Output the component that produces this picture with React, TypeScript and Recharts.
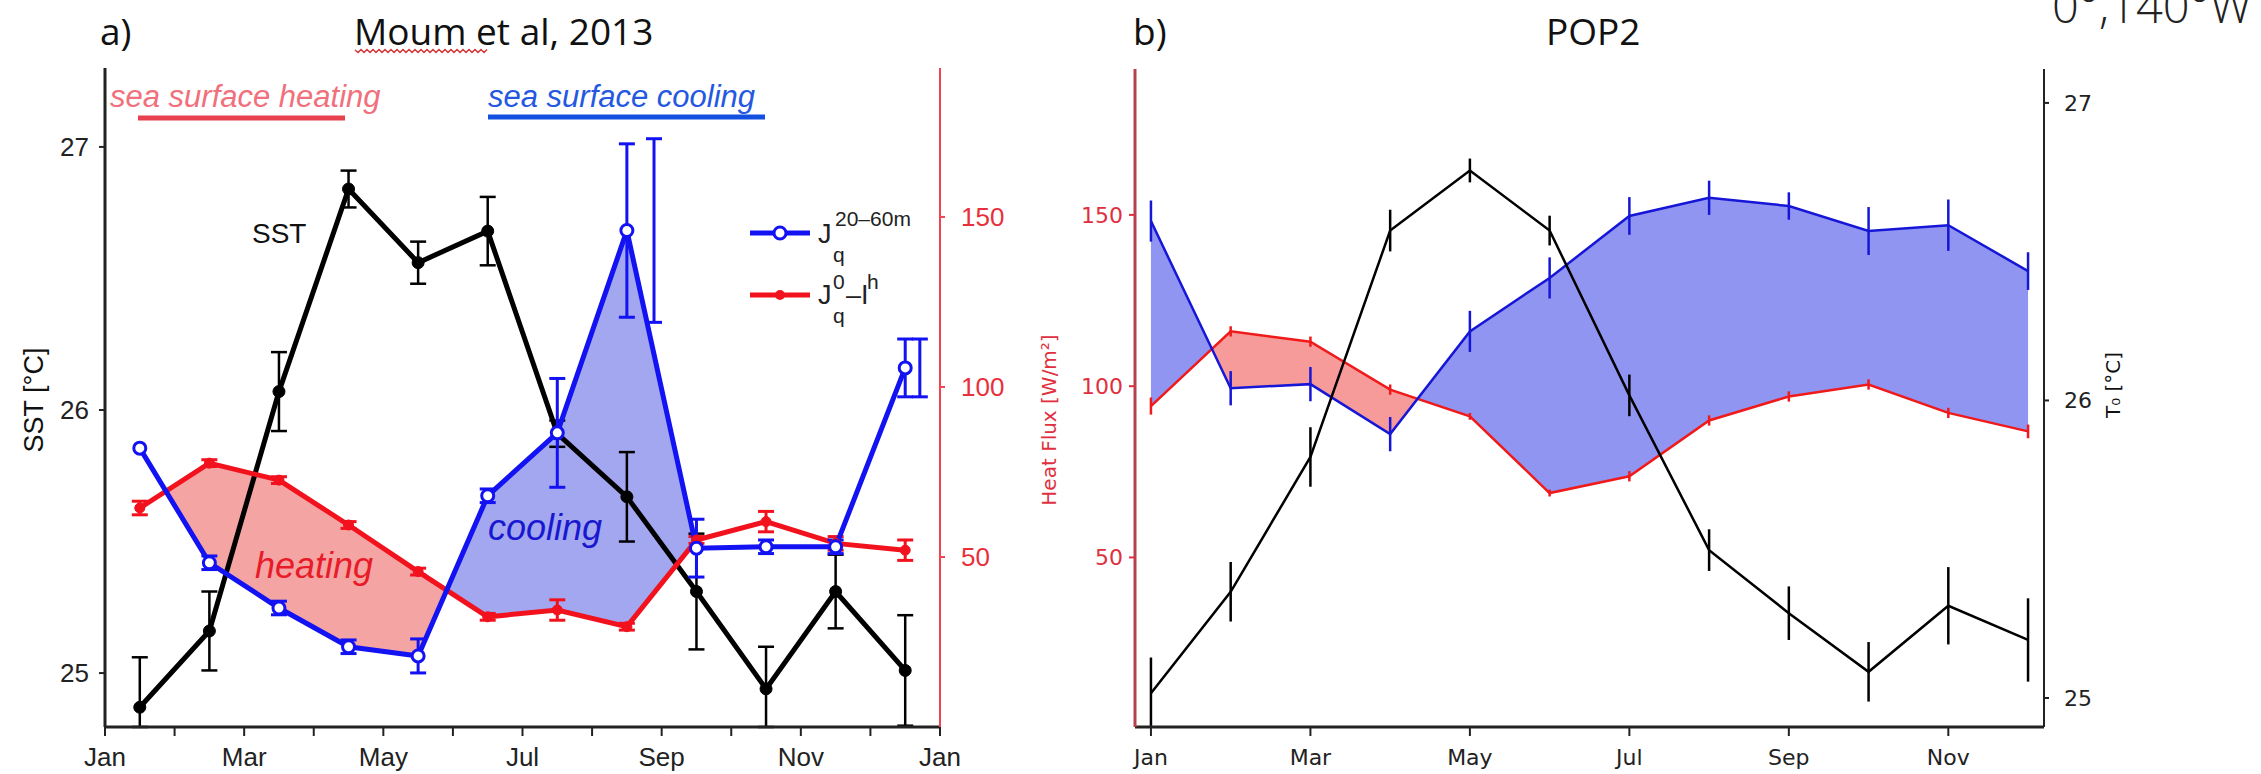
import { ComposedChart, Line, Area, XAxis, YAxis, ErrorBar } from "recharts";

const monthNames = ["Jan", "Feb", "Mar", "Apr", "May", "Jun", "Jul", "Aug", "Sep", "Oct", "Nov", "Dec"];

// panel a) Moum et al, 2013 -- monthly means plotted mid-month
const monthsA = [0.5, 1.5, 2.5, 3.5, 4.5, 5.5, 6.5, 7.5, 8.5, 9.5, 10.5, 11.5];
const sstA = [24.87, 25.16, 26.07, 26.84, 26.56, 26.68, 25.91, 25.67, 25.31, 24.94, 25.31, 25.01];
// [below, above] where the bar runs into the bottom axis
const sstErrA: (number | [number, number])[] = [[0.075, 0.19], 0.15, 0.15, 0.07, 0.08, 0.13, 0.05, 0.17, 0.22, [0.145, 0.16], 0.14, [0.21, 0.21]];
const jqDeepA = [82, 48.3, 35, 23.6, 20.9, 68, 86.5, 146, 52.6, 53, 53, 105.6];
const jqDeepErrA = [0, 2, 2, 2, 5, 2, 16, 25.5, 8.5, 2, 2, 8.5];
const jqNetA = [64.4, 77.6, 72.6, 59.4, 45.7, 32.4, 34.4, 29.5, 55, 60.4, 54, 52];
const jqNetErrA = [2, 1, 1, 1, 1, 1, 3, 1, 1, 3, 2, 3];
// two stray error bars without markers
const extraMonthsA = [7.89, 11.71];
const extraValsA = [146, 105.6];
const extraErrA = [27, 8.5];

// panel b) POP2
const monthsB = [0, 1, 2, 3, 4, 5, 6, 7, 8, 9, 10, 11];
const jqDeepB = [148.2, 99.4, 100.6, 86, 116, 131.6, 149.7, 155, 152.6, 145.3, 147, 133.6];
const jqDeepErrB = [6, 5, 5, 5, 6, 6, 5.5, 5, 4, 7, 7.5, 5.5];
const jqNetB = [94.2, 116, 113, 99, 91.2, 68.8, 73.7, 90, 97, 100.5, 92.2, 86.8];
const jqNetErrB = [2.5, 1.5, 1.5, 1.5, 1, 1, 1.5, 1.5, 1.5, 1.5, 1.5, 2];
const t0B = [25.016, 25.357, 25.81, 26.571, 26.773, 26.571, 26.017, 25.497, 25.285, 25.088, 25.31, 25.195];
const t0ErrB: (number | [number, number])[] = [[0.11, 0.12], 0.1, 0.1, 0.07, 0.04, 0.05, 0.07, 0.07, 0.09, 0.1, 0.13, 0.14];

const rows = (xs: number[], vs: number[], es: (number | [number, number])[]) => xs.map((m, i) => ({ m, v: vs[i], e: es[i] }));

// like fill_between(where=hi>=lo, interpolate=True)
type Pt = { m: number; band: [number, number] | null };
function fillWhere(xs: number[], hi: number[], lo: number[], from: number, to: number): Pt[] {
  const out: Pt[] = [];
  for (let i = from; i <= to; i++) {
    const d = hi[i] - lo[i];
    if (d >= 0) out.push({ m: xs[i], band: [lo[i], hi[i]] });
    if (i === to) break;
    const d2 = hi[i + 1] - lo[i + 1];
    if (d >= 0 !== d2 >= 0) {
      const t = d / (d - d2);
      const m = xs[i] + t * (xs[i + 1] - xs[i]);
      const y = lo[i] + t * (lo[i + 1] - lo[i]);
      out.push({ m, band: [y, y] });
      if (d >= 0) out.push({ m, band: null });
    }
  }
  return out;
}

const heatingA = fillWhere(monthsA, jqNetA, jqDeepA, 0, 5);
const coolingA = fillWhere(monthsA, jqDeepA, jqNetA, 4, 8);
const heatingB = fillWhere(monthsB, jqNetB, jqDeepB, 0, 11);
const coolingB = fillWhere(monthsB, jqDeepB, jqNetB, 0, 11);

const BLUE_A = "#1212f2";
const RED_A = "#f2121e";
const BLUE_B = "#1616d6";
const RED_B = "#f01a1a";
const AX = "#222";

const fontA = "Liberation Sans, Arial, sans-serif";
const fontB = "DejaVu Sans, sans-serif";

const PanelA = () => (
  <ComposedChart width={1040} height={774} margin={{ top: 68, right: 20, bottom: 7, left: 35 }}>
    <XAxis
      type="number"
      dataKey="m"
      domain={[0, 12]}
      ticks={[0, 1, 2, 3, 4, 5, 6, 7, 8, 9, 10, 11, 12]}
      interval={0}
      allowDataOverflow
      tickFormatter={(v: number) => (v % 2 === 0 ? monthNames[v % 12] : "")}
      height={40}
      tickSize={9}
      tickMargin={12}
      axisLine={{ stroke: AX, strokeWidth: 3 }}
      tickLine={{ stroke: AX, strokeWidth: 2 }}
      tick={{ fill: "#222", fontSize: 26, fontFamily: fontA }}
    />
    <YAxis
      yAxisId="sst"
      domain={[24.795, 27.3]}
      ticks={[25, 26, 27]}
      allowDataOverflow
      width={70}
      tickSize={6}
      tickMargin={10}
      axisLine={{ stroke: AX, strokeWidth: 3 }}
      tickLine={{ stroke: AX, strokeWidth: 2 }}
      tick={{ fill: "#222", fontSize: 26, fontFamily: fontA }}
    />
    <YAxis
      yAxisId="flux"
      orientation="right"
      domain={[0, 193.8]}
      ticks={[50, 100, 150]}
      allowDataOverflow
      width={80}
      tickSize={5}
      tickMargin={16}
      axisLine={{ stroke: "#f04450", strokeWidth: 2 }}
      tickLine={{ stroke: "#f04450", strokeWidth: 2 }}
      tick={{ fill: "#e8303c", fontSize: 26, fontFamily: fontA }}
    />
    <Area yAxisId="flux" data={heatingA} dataKey="band" type="linear" stroke="none" fill="#f5a4a4" fillOpacity={1} dot={false} activeDot={false} isAnimationActive={false} />
    <Area yAxisId="flux" data={coolingA} dataKey="band" type="linear" stroke="none" fill="#a3a7f0" fillOpacity={1} dot={false} activeDot={false} isAnimationActive={false} />
    <Line yAxisId="sst" data={rows(monthsA, sstA, sstErrA)} dataKey="v" type="linear" stroke="#000" strokeWidth={5} dot={{ r: 6, fill: "#000", stroke: "#000", strokeWidth: 1 }} activeDot={false} isAnimationActive={false}>
      <ErrorBar dataKey="e" width={8} stroke="#000" strokeWidth={2.5} direction="y" />
    </Line>
    <Line yAxisId="flux" data={rows(monthsA, jqNetA, jqNetErrA)} dataKey="v" type="linear" stroke={RED_A} strokeWidth={5} dot={{ r: 5, fill: RED_A, stroke: RED_A, strokeWidth: 1 }} activeDot={false} isAnimationActive={false}>
      <ErrorBar dataKey="e" width={8} stroke={RED_A} strokeWidth={3} direction="y" />
    </Line>
    <Line yAxisId="flux" data={rows(monthsA, jqDeepA, jqDeepErrA)} dataKey="v" type="linear" stroke={BLUE_A} strokeWidth={5} dot={{ r: 6, fill: "#fff", stroke: BLUE_A, strokeWidth: 3 }} activeDot={false} isAnimationActive={false}>
      <ErrorBar dataKey="e" width={8} stroke={BLUE_A} strokeWidth={3} direction="y" />
    </Line>
    <Line yAxisId="flux" data={rows(extraMonthsA, extraValsA, extraErrA)} dataKey="v" type="linear" stroke="none" dot={false} activeDot={false} isAnimationActive={false}>
      <ErrorBar dataKey="e" width={8} stroke={BLUE_A} strokeWidth={3} direction="y" />
    </Line>
  </ComposedChart>
);

const PanelB = () => (
  <ComposedChart width={1221} height={774} margin={{ top: 69, right: 137, bottom: 7, left: 25 }}>
    <XAxis
      type="number"
      dataKey="m"
      domain={[-0.2, 11.2]}
      ticks={[0, 2, 4, 6, 8, 10]}
      interval={0}
      allowDataOverflow
      tickFormatter={(v: number) => monthNames[v]}
      height={40}
      tickSize={9}
      tickMargin={13}
      axisLine={{ stroke: AX, strokeWidth: 3 }}
      tickLine={{ stroke: AX, strokeWidth: 2 }}
      tick={{ fill: "#222", fontSize: 22, fontFamily: fontB }}
    />
    <YAxis
      yAxisId="flux"
      domain={[0.5, 192.6]}
      ticks={[50, 100, 150]}
      allowDataOverflow
      width={70}
      tickSize={6}
      tickMargin={6}
      axisLine={{ stroke: "#b8404e", strokeWidth: 3 }}
      tickLine={{ stroke: "#e03040", strokeWidth: 2 }}
      tick={{ fill: "#e03040", fontSize: 22, fontFamily: fontB }}
    />
    <YAxis
      yAxisId="t0"
      orientation="right"
      domain={[24.9025, 27.114]}
      ticks={[25, 26, 27]}
      allowDataOverflow
      width={80}
      tickSize={5}
      tickMargin={15}
      axisLine={{ stroke: AX, strokeWidth: 2 }}
      tickLine={{ stroke: AX, strokeWidth: 2 }}
      tick={{ fill: "#222", fontSize: 22, fontFamily: fontB }}
    />
    <Area yAxisId="flux" data={heatingB} dataKey="band" type="linear" stroke="none" fill="#f69a9a" fillOpacity={1} dot={false} activeDot={false} isAnimationActive={false} />
    <Area yAxisId="flux" data={coolingB} dataKey="band" type="linear" stroke="none" fill="#9095f2" fillOpacity={1} dot={false} activeDot={false} isAnimationActive={false} />
    <Line yAxisId="flux" data={rows(monthsB, jqNetB, jqNetErrB)} dataKey="v" type="linear" stroke={RED_B} strokeWidth={2.5} dot={false} activeDot={false} isAnimationActive={false}>
      <ErrorBar dataKey="e" width={0} stroke={RED_B} strokeWidth={2.5} direction="y" />
    </Line>
    <Line yAxisId="flux" data={rows(monthsB, jqDeepB, jqDeepErrB)} dataKey="v" type="linear" stroke={BLUE_B} strokeWidth={2.5} dot={false} activeDot={false} isAnimationActive={false}>
      <ErrorBar dataKey="e" width={0} stroke={BLUE_B} strokeWidth={2.5} direction="y" />
    </Line>
    <Line yAxisId="t0" data={rows(monthsB, t0B, t0ErrB)} dataKey="v" type="linear" stroke="#000" strokeWidth={2.5} dot={false} activeDot={false} isAnimationActive={false}>
      <ErrorBar dataKey="e" width={0} stroke="#000" strokeWidth={2.5} direction="y" />
    </Line>
  </ComposedChart>
);

// red spell-check squiggle under "Moum"
const squiggle = (() => {
  let d = "M355,50";
  for (let x = 355, k = 0; x < 485; x += 3, k++) d += ` L${x + 3},${k % 2 === 0 ? 52.5 : 49.5}`;
  return d;
})();

const Overlay = () => (
  <svg width={2261} height={774} style={{ position: "absolute", left: 0, top: 0, pointerEvents: "none" }}>
    <g fontFamily="Open Sans, sans-serif" fontSize={37} fill="#111">
      <text x={100} y={45}>a)</text>
      <text x={354} y={45}>Moum et al, 2013</text>
      <text x={1133} y={45}>b)</text>
      <text x={1546} y={45}>POP2</text>
    </g>
    <path d={squiggle} stroke="#d83838" strokeWidth={1.5} fill="none" />
    <text x={2052} y={23} fontFamily="Open Sans, sans-serif" fontWeight={300} fontSize={47} fill="#222">0°,140°W</text>

    <g fontFamily={fontA} fontStyle="italic">
      <text x={110} y={107} fontSize={31} fill="#f0707c">sea surface heating</text>
      <line x1={138} x2={345} y1={118} y2={118} stroke="#e8404e" strokeWidth={5} />
      <text x={488} y={107} fontSize={31} fill="#2458e0">sea surface cooling</text>
      <line x1={488} x2={765} y1={117} y2={117} stroke="#1450e0" strokeWidth={5} />
      <text x={255} y={578} fontSize={36} fill="#e81c28">heating</text>
      <text x={488} y={540} fontSize={36} fill="#1818d0">cooling</text>
    </g>
    <text x={252} y={243} fontFamily={fontA} fontSize={28} fill="#111">SST</text>
    <text transform="translate(43,400) rotate(-90)" textAnchor="middle" fontFamily={fontA} fontSize={27} fill="#111">SST [°C]</text>

    <g fontFamily={fontA} fill="#222">
      <line x1={750} x2={810} y1={233} y2={233} stroke={BLUE_A} strokeWidth={5} />
      <circle cx={780} cy={233} r={6} fill="#fff" stroke={BLUE_A} strokeWidth={3} />
      <text x={818} y={243} fontSize={27}>J</text>
      <text x={835} y={226} fontSize={21}>20–60m</text>
      <text x={833} y={262} fontSize={21}>q</text>
      <line x1={750} x2={810} y1={295} y2={295} stroke={RED_A} strokeWidth={5} />
      <circle cx={780} cy={295} r={5} fill={RED_A} />
      <text x={818} y={304} fontSize={27}>J</text>
      <text x={833} y={289} fontSize={21}>0</text>
      <text x={833} y={323} fontSize={21}>q</text>
      <text x={846} y={304} fontSize={27}>–I</text>
      <text x={867} y={289} fontSize={21}>h</text>
    </g>

    <text transform="translate(1056,420) rotate(-90)" textAnchor="middle" fontFamily={fontB} fontSize={20} fill="#e03040">Heat Flux [W/m²]</text>
    <text transform="translate(2120,385) rotate(-90)" textAnchor="middle" fontFamily={fontB} fontSize={20} fill="#111">T₀ [°C]</text>
  </svg>
);

export default function App() {
  return (
    <div style={{ position: "absolute", left: 0, top: 0, width: 2261, height: 774, background: "#fff", overflow: "hidden", fontFamily: fontA }}>
      <div style={{ position: "absolute", left: 0, top: 0 }}>
        <PanelA />
      </div>
      <div style={{ position: "absolute", left: 1040, top: 0 }}>
        <PanelB />
      </div>
      <Overlay />
    </div>
  );
}
